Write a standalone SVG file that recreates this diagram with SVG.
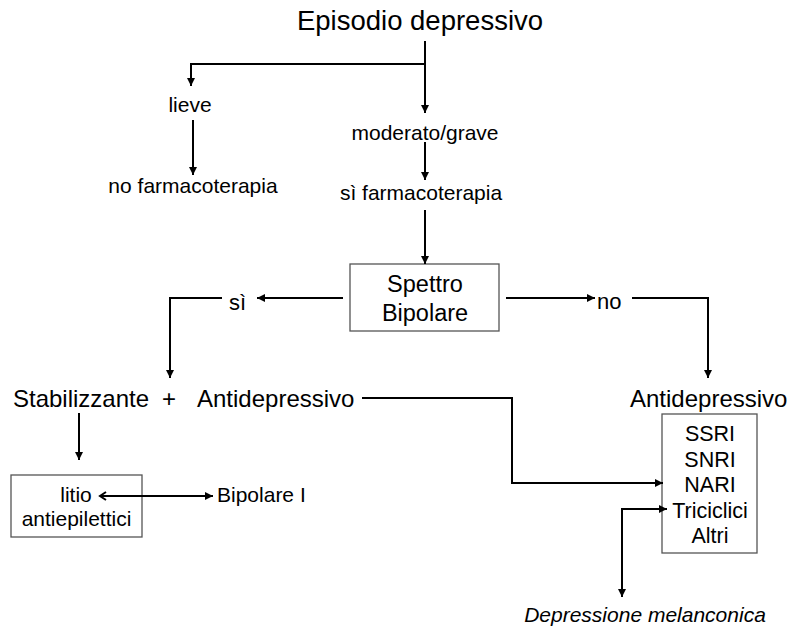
<svg xmlns="http://www.w3.org/2000/svg" width="788" height="627" viewBox="0 0 788 627">
<defs>
<marker id="arr" markerUnits="userSpaceOnUse" markerWidth="9" markerHeight="9" refX="8" refY="4" orient="auto-start-reverse">
<path d="M0,0 L8,4 L0,8 Z" fill="#000"/>
</marker>
<marker id="open" markerUnits="userSpaceOnUse" markerWidth="10" markerHeight="10" refX="8" refY="5" orient="auto-start-reverse">
<path d="M2,1 L8,5 L2,9" fill="none" stroke="#000" stroke-width="2"/>
</marker>
</defs>
<style>
text{font-family:"Liberation Sans",Arial,sans-serif;fill:#000}
.t{font-size:21px}
.m{font-size:24px}
.c{text-anchor:middle}
.box{fill:#fff;stroke:#555;stroke-width:1.3}
.ln{fill:none;stroke:#000;stroke-width:2}
</style>
<rect width="788" height="627" fill="#fff"/>
<g id="n-episodio"><text x="420" y="30" class="c" style="font-size:27.5px">Episodio depressivo</text></g>
<g id="n-lieve"><text x="190" y="112" class="t c">lieve</text></g>
<g id="n-nofarm"><text x="193" y="193" class="t c">no farmacoterapia</text></g>
<g id="n-moderato"><text x="425" y="140" class="t c">moderato/grave</text></g>
<g id="n-sifarm"><text x="421" y="200" class="t c">sì farmacoterapia</text></g>
<g id="n-spettro"><rect class="box" x="350" y="264" width="149" height="67"/><text x="425" y="292" class="c" style="font-size:23.5px">Spettro</text><text x="425" y="321" class="c" style="font-size:23.5px">Bipolare</text></g>
<g id="n-si"><text x="229" y="310" style="font-size:22px">sì</text></g>
<g id="n-no"><text x="597" y="309" style="font-size:22px">no</text></g>
<g id="n-stab"><text x="13" y="407" class="m">Stabilizzante</text><text x="169" y="407" class="m c">+</text><text x="197" y="407" class="m">Antidepressivo</text></g>
<g id="n-antidep"><text x="630" y="407" class="m">Antidepressivo</text></g>
<g id="n-litio"><rect class="box" x="11" y="475" width="131" height="62"/><text x="76" y="502" class="t c">litio</text><text x="76.5" y="526" class="t c">antiepilettici</text></g>
<g id="n-bip1"><text x="217" y="502" class="t">Bipolare I</text></g>
<g id="n-list"><rect class="box" x="662" y="414" width="95" height="139"/>
<text x="710" y="441" class="c" style="font-size:21.5px">SSRI</text>
<text x="710" y="466.5" class="c" style="font-size:21.5px">SNRI</text>
<text x="710" y="492" class="c" style="font-size:21.5px">NARI</text>
<text x="710" y="517.5" class="c" style="font-size:21.5px">Triciclici</text>
<text x="710" y="543" class="c" style="font-size:21.5px">Altri</text></g>
<g id="n-melan"><text x="645" y="622" class="t c" font-style="italic">Depressione melanconica</text></g>
<g id="connectors">
<path class="ln" d="M425,41 V113" marker-end="url(#arr)"/>
<path class="ln" d="M425,64 H191 V86" marker-end="url(#arr)"/>
<path class="ln" d="M193,120 V175" marker-end="url(#arr)"/>
<path class="ln" d="M425,142 V180" marker-end="url(#arr)"/>
<path class="ln" d="M425,210 V264" marker-end="url(#arr)"/>
<path class="ln" d="M343,298 H257" marker-end="url(#arr)"/>
<path class="ln" d="M222,298 H170 V378" marker-end="url(#arr)"/>
<path class="ln" d="M506,298 H595" marker-end="url(#arr)"/>
<path class="ln" d="M632,298 H708 V378" marker-end="url(#arr)"/>
<path class="ln" d="M79,413 V460" marker-end="url(#arr)"/>
<path class="ln" d="M100,496 H213" marker-start="url(#open)" marker-end="url(#arr)"/>
<path class="ln" d="M362,398 H512 V483 H663" marker-end="url(#arr)"/>
<path class="ln" d="M622,597 V509 H667" marker-start="url(#arr)" marker-end="url(#arr)"/>
</g>
</svg>
